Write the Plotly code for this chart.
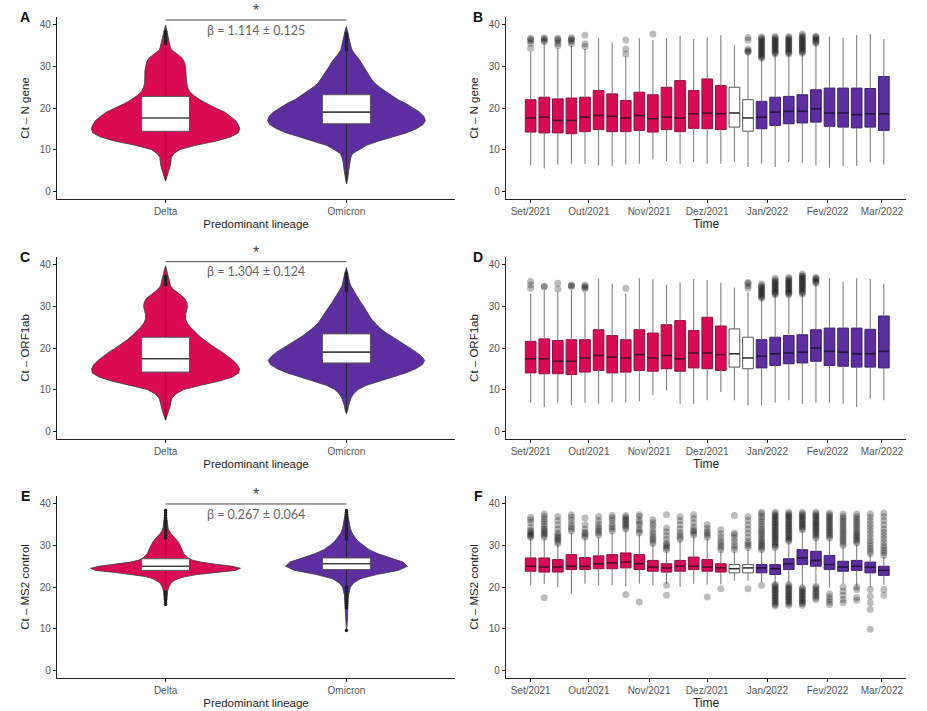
import plotly.graph_objects as go
import pandas as pd

# ---------------- DATA ----------------
weeks = ["2021-09-01", "2021-09-08", "2021-09-15", "2021-09-22", "2021-09-29",
         "2021-10-06", "2021-10-13", "2021-10-20", "2021-10-27", "2021-11-03",
         "2021-11-10", "2021-11-17", "2021-11-24", "2021-12-01", "2021-12-08",
         "2021-12-15", "2021-12-22", "2021-12-29", "2022-01-05", "2022-01-12",
         "2022-01-19", "2022-01-26", "2022-02-02", "2022-02-09", "2022-02-16",
         "2022-02-23", "2022-03-02"]
week_lineage = ["Delta"] * 15 + ["Transition"] * 2 + ["Omicron"] * 10

month_ticks = ["2021-09-01", "2021-10-01", "2021-11-01", "2021-12-01",
               "2022-01-01", "2022-02-01", "2022-03-01"]
month_labels = ["Set/2021", "Out/2021", "Nov/2021", "Dez/2021",
                "Jan/2022", "Fev/2022", "Mar/2022"]

lineages = ["Delta", "Omicron"]

# ---- Panel B: Ct N gene weekly ----
B_q1 = [14.2, 14.0, 14.0, 13.8, 14.3, 14.8, 14.3, 14.3, 14.6, 14.2, 14.8, 14.3, 15.1, 15.0, 14.8,
        15.4, 14.4, 15.0, 15.8, 16.2, 16.4, 16.6, 15.6, 15.4, 15.2, 15.4, 14.6]
B_med = [17.6, 17.8, 17.0, 17.0, 17.8, 18.2, 18.0, 17.6, 18.2, 17.4, 17.8, 17.6, 18.6, 18.8, 18.6,
         18.8, 17.6, 17.8, 19.0, 19.2, 19.2, 19.8, 18.8, 18.8, 18.4, 18.6, 18.6]
B_q3 = [22.0, 22.6, 22.2, 22.4, 22.6, 24.2, 23.4, 21.8, 23.8, 23.2, 25.0, 26.6, 24.2, 27.0, 25.4,
        25.0, 22.0, 21.6, 22.6, 22.8, 23.2, 24.4, 24.8, 24.8, 24.8, 24.7, 27.6]
B_lo = [6.2, 5.4, 6.4, 6.6, 6.6, 6.2, 6.0, 6.4, 6.6, 7.6, 7.2, 6.6, 7.0, 6.6, 6.6,
        7.0, 5.8, 6.6, 5.8, 7.0, 6.8, 6.2, 5.6, 6.0, 6.0, 7.0, 6.4]
B_hi = [33.6, 35.6, 34.4, 35.0, 34.2, 36.8, 35.8, 32.4, 36.8, 36.4, 36.8, 37.4, 36.6, 37.0, 37.6,
        35.2, 32.8, 32.0, 33.0, 33.0, 33.2, 35.4, 37.2, 37.0, 37.6, 37.8, 36.6]
B_out = [[34.4, 35.6, 36.2, 36.5, 36.8], [36.0, 36.3, 36.6, 36.9], [35.0, 35.6, 36.2, 36.5, 36.8],
         [35.5, 36.0, 36.3, 36.6, 36.9], [34.8, 35.5, 37.5], [], [], [33.0, 34.2, 36.4], [],
         [37.8], [], [], [], [], [], [],
         [33.4, 33.6, 33.8, 34.2, 36.4, 37.0],
         [32.0, 32.3, 32.6, 32.9, 33.2, 33.5, 33.8, 34.1, 34.4, 34.7, 35.0, 35.3, 35.6, 35.9, 36.2, 36.5, 36.8, 37.1],
         [33.0, 33.3, 33.6, 33.9, 34.2, 34.5, 34.8, 35.1, 35.4, 35.7, 36.0, 36.3, 36.6, 36.9, 37.2],
         [33.0, 33.3, 33.6, 33.9, 34.2, 34.5, 34.8, 35.1, 35.4, 35.7, 36.0, 36.3, 36.6, 36.9, 37.2],
         [33.2, 33.5, 33.8, 34.1, 34.4, 34.7, 35.0, 35.3, 35.6, 35.9, 36.2, 36.5, 36.8, 37.1, 37.4, 37.8],
         [35.6, 35.9, 36.2, 36.5, 36.8, 37.1, 37.3], [], [], [], [], []]

# ---- Panel D: Ct ORF1ab weekly ----
D_q1 = [14.0, 13.8, 13.8, 13.6, 14.2, 14.6, 14.0, 14.2, 14.6, 14.4, 15.0, 14.4, 15.2, 15.0, 14.6,
        15.4, 15.0, 15.2, 15.8, 16.2, 16.4, 16.8, 15.8, 15.6, 15.4, 15.4, 15.2]
D_med = [17.4, 17.4, 16.8, 16.8, 17.6, 18.2, 17.8, 17.6, 18.4, 17.6, 18.2, 17.4, 18.8, 18.8, 18.4,
         18.6, 17.6, 18.0, 18.6, 18.8, 19.0, 20.0, 19.2, 19.0, 18.6, 18.6, 19.2]
D_q3 = [21.6, 22.2, 21.8, 22.0, 22.0, 24.4, 23.0, 22.0, 24.4, 23.6, 25.6, 26.6, 24.2, 27.4, 25.3,
        24.6, 22.6, 22.0, 22.6, 23.0, 23.2, 24.4, 24.8, 24.8, 24.8, 24.5, 27.7]
D_lo = [6.8, 5.8, 6.8, 6.2, 6.8, 6.6, 7.0, 6.8, 7.2, 8.6, 9.8, 6.6, 6.6, 7.4, 9.4,
        7.4, 6.2, 6.2, 6.9, 7.4, 6.6, 6.8, 6.8, 6.6, 5.8, 7.8, 7.4]
D_hi = [33.0, 34.0, 33.4, 34.0, 33.4, 36.6, 35.5, 33.1, 36.8, 36.6, 35.2, 35.8, 36.6, 36.4, 35.8,
        34.6, 33.4, 32.0, 33.0, 33.0, 33.0, 35.5, 36.8, 36.0, 36.8, 36.6, 35.5]
D_out = [[34.4, 35.2, 36.0], [34.8, 34.8], [34.2, 35.6], [34.8, 35.0, 35.2], [34.2, 34.6, 34.8, 35.2],
         [], [], [34.4], [], [], [], [], [], [], [], [],
         [34.4, 35.0, 35.6, 35.8],
         [32.0, 32.3, 32.6, 32.9, 33.2, 33.5, 33.8, 34.1, 34.4, 34.7, 35.0, 35.4],
         [32.8, 33.1, 33.4, 33.7, 34.0, 34.3, 34.6, 34.9, 35.2, 35.5, 35.8, 36.1, 36.4, 36.8],
         [32.8, 33.1, 33.4, 33.7, 34.0, 34.3, 34.6, 34.9, 35.2, 35.5, 35.8, 36.1, 36.4, 36.7, 37.0],
         [33.0, 33.3, 33.6, 33.9, 34.2, 34.5, 34.8, 35.1, 35.4, 35.7, 36.0, 36.3, 36.6, 36.9, 37.2, 37.4, 37.8],
         [35.6, 35.9, 36.2, 36.5, 36.8, 37.0], [], [], [], [], []]

# ---- Panel F: Ct MS2 control weekly ----
F_q1 = [23.8, 23.6, 23.6, 24.2, 24.2, 24.4, 24.4, 24.6, 24.2, 23.8, 23.6, 23.8, 24.2, 23.8, 23.6,
        23.4, 23.4, 23.4, 23.0, 24.2, 25.4, 25.0, 24.2, 23.8, 24.0, 23.4, 22.8]
F_med = [25.0, 24.8, 24.8, 25.0, 25.0, 25.6, 25.8, 26.0, 25.6, 24.8, 24.6, 25.0, 25.0, 24.8, 24.6,
         24.4, 24.6, 24.6, 24.4, 25.6, 27.0, 26.4, 25.4, 24.8, 25.0, 24.8, 24.0]
F_q3 = [27.0, 27.0, 26.6, 27.8, 27.1, 27.5, 27.8, 28.2, 27.8, 26.4, 25.6, 26.4, 27.2, 26.6, 25.6,
        25.4, 25.4, 25.4, 25.4, 26.8, 29.0, 28.6, 27.6, 26.2, 26.4, 26.0, 25.0]
F_lo = [20.4, 20.8, 20.0, 18.4, 20.8, 20.4, 20.4, 20.2, 20.8, 20.4, 20.8, 20.0, 20.8, 20.6, 20.6,
        21.5, 21.5, 21.2, 21.0, 21.0, 20.4, 21.0, 19.8, 20.8, 20.2, 20.0, 20.6]
F_hi = [31.6, 31.6, 30.2, 33.0, 31.6, 32.0, 33.0, 33.6, 32.6, 30.2, 28.6, 31.2, 32.2, 31.6, 28.6,
        28.6, 29.0, 28.6, 29.0, 30.6, 33.4, 31.4, 31.4, 29.6, 30.2, 27.8, 27.2]
F_out = [[32.0, 32.3, 32.6, 32.9, 33.3, 33.7, 34.4, 35.5, 36.2, 36.8],
         [32.0, 32.4, 32.8, 33.2, 33.6, 34.0, 34.6, 35.2, 35.8, 36.4, 37.0, 37.6, 17.4],
         [30.5, 30.9, 31.3, 31.7, 32.1, 32.5, 33.0, 34.0, 35.0, 36.0, 37.0],
         [33.5, 34.0, 34.5, 35.2, 36.0, 36.8, 37.4],
         [32.0, 32.4, 32.8, 33.2, 34.0, 35.0, 36.6],
         [32.5, 33.0, 33.5, 34.0, 34.5, 35.2, 36.0, 37.0],
         [33.5, 34.0, 34.6, 35.2, 36.0, 36.6, 37.2],
         [34.0, 34.4, 34.8, 35.2, 35.6, 36.0, 36.4, 36.8, 37.2, 18.2],
         [33.0, 33.5, 34.0, 35.0, 35.5, 36.0, 37.0, 37.4, 16.4],
         [30.5, 31.0, 31.5, 32.0, 32.6, 33.2, 34.0, 34.8, 35.5, 36.2],
         [29.0, 29.4, 29.8, 30.2, 30.6, 31.5, 32.4, 33.3, 34.2, 37.4, 20.4, 18.0],
         [31.5, 32.0, 32.5, 33.2, 34.0, 35.0, 36.0, 37.0],
         [32.5, 33.0, 33.4, 33.8, 34.5, 35.5, 36.5, 37.4],
         [32.0, 32.5, 33.0, 33.5, 34.2, 35.0, 17.6],
         [29.0, 29.5, 30.0, 30.6, 31.2, 32.0, 32.8, 33.8, 19.6],
         [29.0, 29.6, 30.2, 31.0, 31.8, 32.6, 33.0, 37.2],
         [29.5, 30.0, 30.5, 31.0, 32.0, 33.0, 34.0, 35.0, 36.0, 37.0, 19.6],
         [29.0, 29.4, 29.8, 30.2, 30.6, 31.0, 31.5, 32.0, 32.5, 33.0, 33.5, 34.0, 34.6, 35.2, 35.8,
          36.4, 37.0, 37.6, 38.0, 20.4],
         [29.5, 29.9, 30.2, 30.6, 30.9, 31.3, 31.6, 32.0, 32.3, 32.7, 33.0, 33.4, 33.7, 34.1, 34.4,
          34.8, 35.1, 35.5, 35.8, 36.2, 36.5, 36.9, 37.2, 37.6, 38.0,
          15.4, 15.8, 16.1, 16.5, 16.8, 17.2, 17.5, 17.9, 18.2, 18.6, 18.9, 19.3, 19.6, 20.0, 20.3, 20.6],
         [31.0, 31.3, 31.7, 32.0, 32.4, 32.7, 33.1, 33.4, 33.8, 34.1, 34.5, 34.8, 35.2, 35.5, 35.9,
          36.2, 36.6, 36.9, 37.3, 37.6, 38.0,
          15.6, 16.0, 16.3, 16.7, 17.0, 17.4, 17.7, 18.1, 18.4, 18.8, 19.1, 19.5, 19.8, 20.2, 20.6],
         [33.8, 34.1, 34.5, 34.8, 35.2, 35.5, 35.9, 36.2, 36.6, 36.9, 37.3, 37.6, 38.0,
          15.6, 16.0, 16.3, 16.7, 17.0, 17.4, 17.7, 18.1, 18.4, 18.8, 19.1, 19.5, 19.8],
         [31.8, 32.2, 32.6, 33.0, 33.4, 33.7, 34.1, 34.4, 34.8, 35.1, 35.5, 35.8, 36.2, 36.5, 36.9,
          37.2, 37.6, 38.0, 17.0, 17.4, 17.8, 18.2, 18.6, 19.0, 19.4, 19.8, 20.2],
         [31.8, 32.2, 32.6, 33.0, 33.4, 33.8, 34.2, 34.6, 35.0, 35.4, 35.8, 36.2, 36.6, 37.0, 37.4,
          37.8, 15.8, 16.4, 17.0, 17.6, 18.4],
         [30.0, 30.5, 31.0, 31.5, 32.0, 32.5, 33.0, 33.5, 34.0, 34.5, 35.0, 35.5, 36.0, 36.5, 37.0,
          37.6, 16.2, 17.0, 18.0, 19.0, 20.0],
         [30.6, 31.0, 31.4, 31.8, 32.2, 32.6, 33.0, 33.5, 34.0, 34.5, 35.0, 35.5, 36.0, 36.5, 37.0,
          37.6, 16.8, 17.5, 19.4, 20.0],
         [28.0, 28.6, 29.2, 29.8, 30.5, 31.2, 32.0, 32.8, 33.6, 34.4, 35.2, 36.0, 36.8, 37.6,
          9.8, 14.6, 16.2, 17.8, 19.4],
         [27.6, 28.2, 28.8, 29.4, 30.0, 30.8, 31.6, 32.4, 33.2, 34.0, 35.0, 36.0, 37.0, 37.8, 18.0, 19.4]]

# ---- Violin panels (A, C, E): density profiles (y level, relative density) ----
A_delta_y = [2.4, 3.5, 5, 6, 7, 8, 9, 10, 11, 12, 13, 14, 15, 16, 17, 18, 19, 20, 21, 22, 23, 24,
             25, 26, 27, 28, 29, 30, 31, 32, 33, 34, 35, 36, 37, 38, 39, 40]
A_delta_d = [0, 5, 10, 14, 16, 17, 25, 43, 90, 150, 195, 218, 223, 218, 210, 195, 178, 150, 125,
             103, 85, 72, 66, 63, 62, 62, 62, 60, 57, 50, 35, 18, 13, 11, 9, 6, 3, 0]
A_omi_y = [1.7, 3, 5, 7, 8, 9, 10, 11, 12, 13, 14, 15, 16, 17, 18, 19, 20, 21, 22, 23, 24, 25, 26,
           27, 28, 29, 30, 31, 32, 33, 34, 35, 36, 37, 38, 39, 39.6]
A_omi_d = [0, 4, 7, 10, 13, 18, 37, 60, 95, 140, 180, 210, 230, 237, 232, 220, 200, 180, 155, 135,
           118, 100, 85, 75, 67, 60, 52, 45, 36, 25, 17, 13, 10, 8, 6, 3, 0]
C_delta_y = [2.6, 4, 5, 6, 7, 8, 9, 10, 11, 12, 13, 14, 15, 16, 17, 18, 19, 20, 21, 22, 23, 24, 25,
             26, 27, 28, 29, 30, 31, 32, 33, 34, 35, 36, 37, 38, 39, 39.8]
C_delta_d = [0, 6, 10, 14, 16, 20, 32, 55, 105, 160, 200, 220, 222, 215, 203, 188, 170, 150, 132,
             115, 100, 87, 75, 65, 60, 60, 63, 66, 64, 57, 42, 25, 15, 12, 9, 6, 3, 0]
C_omi_y = [4.2, 5, 6, 7, 8, 9, 10, 11, 12, 13, 14, 15, 16, 17, 18, 19, 20, 21, 22, 23, 24, 25, 26,
           27, 28, 29, 30, 31, 32, 33, 34, 35, 36, 37, 38, 39.4]
C_omi_d = [0, 4, 6, 9, 14, 22, 35, 60, 100, 140, 178, 208, 228, 235, 225, 210, 190, 170, 150, 130,
           113, 98, 85, 75, 67, 60, 52, 43, 35, 27, 20, 13, 9, 7, 5, 0]
E_delta_y = [15.5, 17, 19, 20, 21, 21.5, 22, 22.5, 23, 23.5, 24, 24.5, 25, 25.5, 26, 26.5, 27, 28,
             29, 30, 31, 32, 33, 34, 35, 36, 37, 38, 38.8]
E_delta_d = [0, 4, 6, 10, 17, 25, 38, 60, 95, 150, 210, 225, 200, 150, 105, 80, 68, 55, 50, 44,
             37, 27, 15, 8, 6, 5, 4, 2, 0]
E_omi_y = [9.5, 12, 15, 18, 20, 21, 22, 23, 24, 25, 26, 27, 28, 29, 30, 31, 32, 33, 34, 35, 36,
           37, 38, 38.8]
E_omi_d = [0, 3, 4, 6, 12, 22, 42, 90, 155, 183, 170, 135, 95, 68, 50, 35, 25, 17, 12, 9, 7, 5, 3, 0]

# box stats [Delta, Omicron]
A_q1, A_med, A_q3 = [14.4, 16.2], [17.6, 19.0], [22.8, 23.2]
A_lo, A_hi = [2.5, 1.8], [35.0, 33.5]
A_out = [[35.5, 36.0, 36.5, 37.0, 37.5, 38.0, 38.5], [34.0, 34.5, 35.0, 35.5, 36.0, 36.5, 37.0, 37.5, 38.0]]
C_q1, C_med, C_q3 = [14.2, 16.4], [17.4, 19.0], [22.6, 23.4]
C_lo, C_hi = [2.7, 4.2], [35.0, 33.8]
C_out = [[35.2, 35.6, 36.0, 36.4, 36.8, 37.2], [33.8, 34.2, 34.6, 35.0, 35.4, 35.8, 36.2, 36.6, 37.0, 37.4, 38.0]]
E_q1, E_med, E_q3 = [24.0, 24.2], [25.0, 25.6], [26.8, 27.0]
E_lo, E_hi = [19.5, 20.5], [31.5, 31.0]
E_out = [[31.8, 32.4, 33.0, 33.6, 34.2, 34.8, 35.4, 36.0, 36.6, 37.2, 37.8, 38.4,
          15.8, 16.4, 17.0, 17.6, 18.2, 18.8],
         [31.5, 32.0, 32.5, 33.0, 33.5, 34.0, 34.5, 35.0, 35.5, 36.0, 36.5, 37.0, 37.5, 38.0, 38.4,
          9.5, 15.0, 15.5, 16.0, 16.5, 17.0, 17.5, 18.0, 18.5, 19.0, 19.5, 20.0]]

sig_text = ["β = 1.114 ± 0.125", "β = 1.304 ± 0.124", "β = 0.267 ± 0.064"]
sig_y = [41.2, 40.8, 40.0]
y_titles_left = ["Ct – N gene", "Ct – ORF1ab", "Ct – MS2 control"]
panel_letters = ["A", "B", "C", "D", "E", "F"]

# ---------------- STYLE ----------------
RED = "#DA0B54"
PURPLE = "#5D2EA0"
FILL = {"Delta": RED, "Omicron": PURPLE, "Transition": "#FFFFFF"}
EDGE = {"Delta": "#8E1040", "Omicron": "#3E2070", "Transition": "#555555"}
MEDC = {"Delta": "#4A1028", "Omicron": "#26143F", "Transition": "#333333"}
FONT = "Liberation Sans, Arial, sans-serif"
W, H = 927, 711

rows_px = [(17, 199), (257, 439), (496, 678)]
col_px = [(57, 455), (506, 906)]
YR = [-1.92, 41.92]
BOX_DAYS = 5.5
VW = 1 / 543.0   # violin density -> data width
VBOX = 0.265

fig = go.Figure()


def dom_x(c):
    return [col_px[c][0] / W, col_px[c][1] / W]


def dom_y(r):
    return [1 - rows_px[r][1] / H, 1 - rows_px[r][0] / H]


axis_common = dict(showline=True, linecolor="#222", linewidth=1.2, ticks="outside", ticklen=3,
                   tickcolor="#222", tickwidth=1, showgrid=False, zeroline=False,
                   tickfont=dict(family=FONT, size=10, color="#555"))

violin_data = [
    (A_delta_y, A_delta_d, A_omi_y, A_omi_d, A_q1, A_med, A_q3, A_lo, A_hi, A_out),
    (C_delta_y, C_delta_d, C_omi_y, C_omi_d, C_q1, C_med, C_q3, C_lo, C_hi, C_out),
    (E_delta_y, E_delta_d, E_omi_y, E_omi_d, E_q1, E_med, E_q3, E_lo, E_hi, E_out),
]
week_data = [
    (B_q1, B_med, B_q3, B_lo, B_hi, B_out),
    (D_q1, D_med, D_q3, D_lo, D_hi, D_out),
    (F_q1, F_med, F_q3, F_lo, F_hi, F_out),
]

wk = pd.to_datetime(weeks)
half = pd.Timedelta(days=BOX_DAYS / 2)

for r in range(3):
    ax_l = 2 * r + 1
    ax_r = 2 * r + 2
    xl = "x" if ax_l == 1 else f"x{ax_l}"
    yl = "y" if ax_l == 1 else f"y{ax_l}"
    xr, yr = f"x{ax_r}", f"y{ax_r}"

    # ----- violin panel -----
    dy, dd, oy, od, q1, med, q3, lo, hi, out = violin_data[r]
    for i, (yy, dens, lin) in enumerate([(dy, dd, "Delta"), (oy, od, "Omicron")]):
        xs = [i + d * VW for d in dens] + [i - d * VW for d in dens[::-1]]
        ys = list(yy) + list(yy[::-1])
        fig.add_trace(go.Scatter(x=xs, y=ys, fill="toself", fillcolor=FILL[lin], mode="lines",
                                 line=dict(color="#3a3a3a", width=0.8), xaxis=xl, yaxis=yl,
                                 showlegend=False, hoverinfo="skip"))
    wx, wy = [], []
    for i in range(2):
        wx += [i, i, None]
        wy += [lo[i], hi[i], None]
    fig.add_trace(go.Scatter(x=wx, y=wy, mode="lines", line=dict(color="#222", width=0.9),
                             xaxis=xl, yaxis=yl, showlegend=False, hoverinfo="skip"))
    ox, oyv = [], []
    for i in range(2):
        ox += [i] * len(out[i])
        oyv += out[i]
    fig.add_trace(go.Scatter(x=ox, y=oyv, mode="markers", marker=dict(color="#222", size=3.5),
                             xaxis=xl, yaxis=yl, showlegend=False, hoverinfo="skip"))
    for i in range(2):
        bx = [i - VBOX / 2, i + VBOX / 2, i + VBOX / 2, i - VBOX / 2, i - VBOX / 2]
        by = [q1[i], q1[i], q3[i], q3[i], q1[i]]
        fig.add_trace(go.Scatter(x=bx, y=by, fill="toself", fillcolor="white", mode="lines",
                                 line=dict(color="#555", width=1), xaxis=xl, yaxis=yl,
                                 showlegend=False, hoverinfo="skip"))
    mx, my = [], []
    for i in range(2):
        mx += [i - VBOX / 2, i + VBOX / 2, None]
        my += [med[i], med[i], None]
    fig.add_trace(go.Scatter(x=mx, y=my, mode="lines", line=dict(color="#444", width=1.6),
                             xaxis=xl, yaxis=yl, showlegend=False, hoverinfo="skip"))

    # ----- weekly panel -----
    q1, med, q3, lo, hi, out = week_data[r]
    wx, wy = [], []
    for i in range(len(weeks)):
        wx += [wk[i], wk[i], None, wk[i], wk[i], None]
        wy += [lo[i], q1[i], None, q3[i], hi[i], None]
    fig.add_trace(go.Scatter(x=wx, y=wy, mode="lines", line=dict(color="#808080", width=1.1),
                             xaxis=xr, yaxis=yr, showlegend=False, hoverinfo="skip"))
    ox, oyv = [], []
    for i in range(len(weeks)):
        ox += [wk[i]] * len(out[i])
        oyv += out[i]
    fig.add_trace(go.Scatter(x=ox, y=oyv, mode="markers",
                             marker=dict(color="rgba(0,0,0,0.26)", size=7, line=dict(width=0)),
                             xaxis=xr, yaxis=yr, showlegend=False, hoverinfo="skip"))
    fig.add_trace(go.Bar(x=wk, base=q1, y=[q3[i] - q1[i] for i in range(len(weeks))],
                         width=BOX_DAYS * 86400000,
                         marker=dict(color=[FILL[l] for l in week_lineage],
                                     line=dict(color=[EDGE[l] for l in week_lineage], width=1)),
                         xaxis=xr, yaxis=yr, showlegend=False, hoverinfo="skip"))
    for lin in ["Delta", "Transition", "Omicron"]:
        mx, my = [], []
        for i in range(len(weeks)):
            if week_lineage[i] == lin:
                mx += [wk[i] - half, wk[i] + half, None]
                my += [med[i], med[i], None]
        fig.add_trace(go.Scatter(x=mx, y=my, mode="lines", line=dict(color=MEDC[lin], width=1.6),
                                 xaxis=xr, yaxis=yr, showlegend=False, hoverinfo="skip"))

    # axes
    lkey = "xaxis" if ax_l == 1 else f"xaxis{ax_l}"
    lykey = "yaxis" if ax_l == 1 else f"yaxis{ax_l}"
    fig.layout[lkey] = dict(axis_common, domain=dom_x(0), anchor=yl, range=[-0.6, 1.6],
                            tickvals=[0, 1], ticktext=lineages,
                            title=dict(text="Predominant lineage", standoff=3,
                                       font=dict(family=FONT, size=11.5, color="#222")))
    fig.layout[lykey] = dict(axis_common, domain=dom_y(r), anchor=xl, range=YR,
                             tickvals=[0, 10, 20, 30, 40],
                             title=dict(text=y_titles_left[r], standoff=7,
                                        font=dict(family=FONT, size=11.5, color="#222")))
    fig.layout[f"xaxis{ax_r}"] = dict(axis_common, domain=dom_x(1), anchor=yr, type="date",
                                      range=["2021-08-19 07:00", "2022-03-13 10:00"],
                                      tickvals=month_ticks, ticktext=month_labels,
                                      title=dict(text="Time", standoff=3,
                                                 font=dict(family=FONT, size=12, color="#222")))
    fig.layout[f"yaxis{ax_r}"] = dict(axis_common, domain=dom_y(r), anchor=xr, range=YR,
                                      tickvals=[0, 10, 20, 30, 40],
                                      title=dict(text=y_titles_left[r], standoff=7,
                                                 font=dict(family=FONT, size=11.5, color="#222")))

    # significance bracket
    fig.add_shape(type="line", xref=xl, yref=yl, x0=0, x1=1, y0=sig_y[r], y1=sig_y[r],
                  line=dict(color="#444", width=1))
    fig.add_annotation(xref=xl, yref=yl, x=0.5, y=sig_y[r] - 0.3, text="*", showarrow=False,
                       yanchor="bottom", font=dict(family=FONT, size=16, color="#444"))
    fig.add_annotation(xref=xl, yref=yl, x=0.5, y=sig_y[r] - 0.2, text=sig_text[r], showarrow=False,
                       yanchor="top", font=dict(family="Lato, " + FONT, size=12.5, color="#666"))

    # panel letters
    for c in range(2):
        fig.add_annotation(xref="paper", yref="paper", x=[25, 478][c] / W,
                           y=1 - (rows_px[r][0]) / H, text=f"<b>{panel_letters[2 * r + c]}</b>",
                           showarrow=False, xanchor="center", yanchor="middle",
                           font=dict(family=FONT, size=14, color="#111"))

fig.update_layout(width=W, height=H, margin=dict(l=0, r=0, t=0, b=0),
                  paper_bgcolor="white", plot_bgcolor="white", barmode="overlay",
                  showlegend=False, font=dict(family=FONT))

fig.write_html("out.html")
